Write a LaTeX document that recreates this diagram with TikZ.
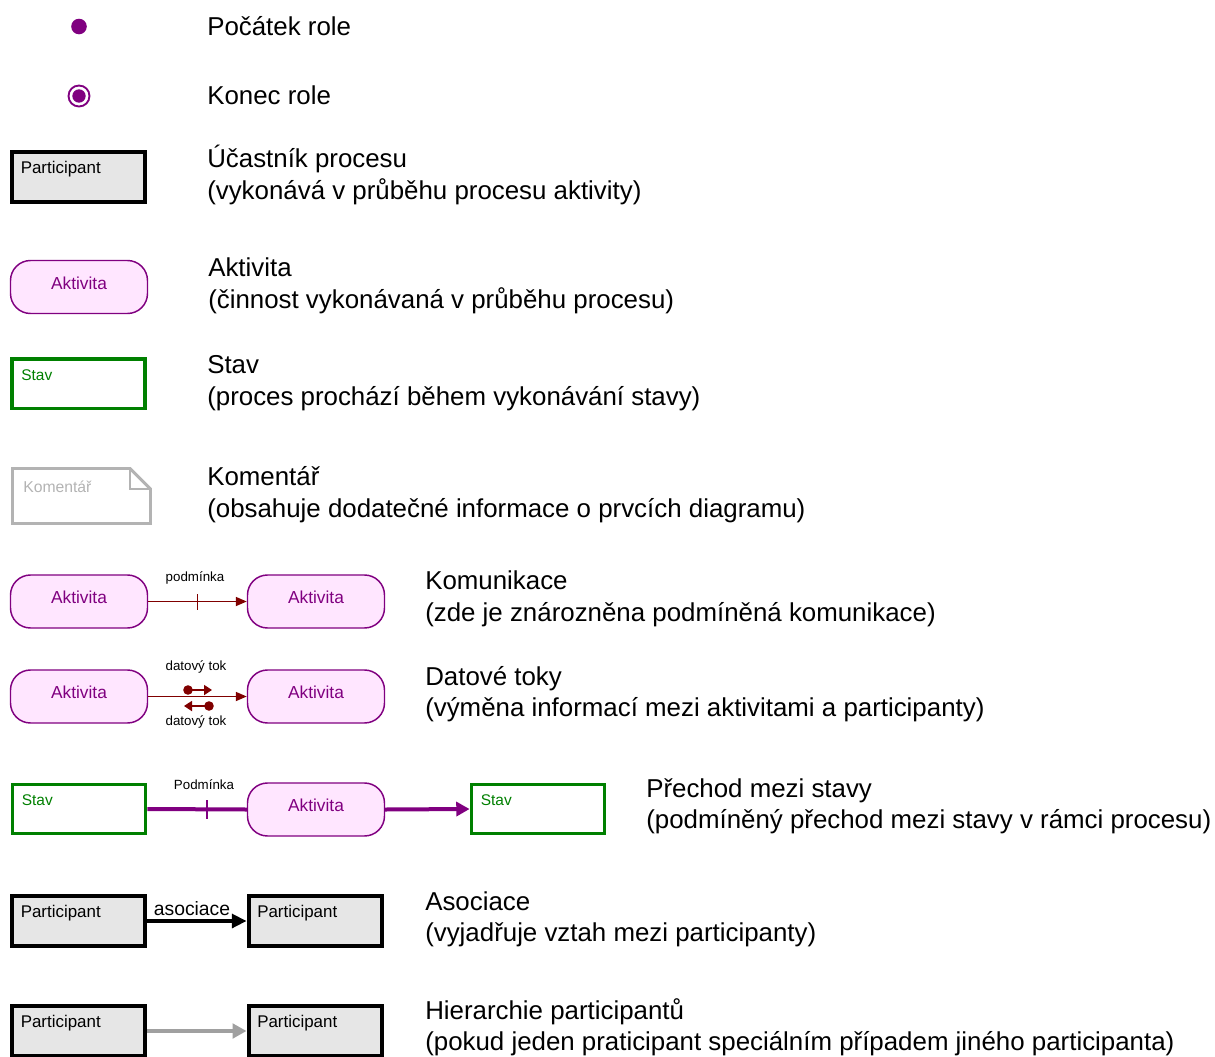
\documentclass[tikz,border=0pt]{standalone}
\usepackage{fontspec}
\setmainfont{Liberation Sans}
\usetikzlibrary{arrows.meta}
\definecolor{rolepurple}{HTML}{800080}
\definecolor{actfill}{HTML}{FFE6FF}
\definecolor{partfill}{HTML}{E6E6E6}
\definecolor{stategreen}{HTML}{008000}
\definecolor{notegrey}{HTML}{B3B3B3}
\definecolor{flowred}{HTML}{800000}
\definecolor{hiergrey}{HTML}{A0A0A0}
\newcommand\myfs[1]{\fontsize{#1}{#1}\selectfont}

\begin{document}
\begin{tikzpicture}[x=0.75pt,y=-0.75pt,
  desc/.style={anchor=base west, inner sep=0pt, font=\myfs{19.4}},
  small/.style={anchor=base, inner sep=0pt, font=\myfs{10}},
  startdot/.style={circle, fill=rolepurple, minimum size=11.7pt, inner sep=0pt},
  enddot/.style={circle, fill=rolepurple, minimum size=10pt, inner sep=0pt},
  endring/.style={circle, draw=rolepurple, line width=1.4pt, minimum size=15.75pt, inner sep=0pt},
  partbox/.style={draw=black, line width=3pt, fill=partfill, minimum width=99.75pt,
    minimum height=37.5pt, inner sep=0pt},
  parttext/.style={anchor=base west, inner sep=0pt, font=\myfs{12.7}},
  actbox/.style={draw=rolepurple, line width=1.1pt, fill=actfill, rounded corners=15pt,
    minimum width=102.75pt, minimum height=39.75pt, inner sep=0pt, text=rolepurple,
    font=\myfs{13}, text depth=6pt},
  statebox/.style={draw=stategreen, line width=2.6pt, fill=white, minimum width=100pt,
    minimum height=37.1pt, inner sep=0pt},
  statetext/.style={anchor=base west, inner sep=0pt, text=stategreen, font=\myfs{11.6}},
  note/.style={draw=notegrey, line width=2.2pt, line join=miter},
  comm/.style={draw=flowred, line width=1.3pt, -{Triangle[length=8.25pt,width=6.75pt]}},
  flowtip/.style={draw=flowred, line width=1.3pt, -{Triangle[length=6pt,width=7.5pt]}},
  trans/.style={draw=rolepurple, line width=3pt},
  transarrow/.style={trans, -{Triangle[length=10pt,width=10.5pt]}},
  assoc/.style={draw=black, line width=2.4pt, -{Triangle[length=11pt,width=10.5pt]}},
  hier/.style={draw=hiergrey, line width=2.4pt, -{Triangle[length=10.5pt,width=11pt]}},
  tickmark/.style={line width=1.1pt},
]
\useasboundingbox (0,0) rectangle (1215,1057);

% --- role start / end
\node[startdot] (start) at (79,26.5) {};
\node[endring] (endout) at (79,96) {};
\node[enddot] (endin) at (79,96) {};
\node[desc] (dstart) at (207,35.5) {Počátek role};
\node[desc] (dend) at (207,104.5) {Konec role};

% --- participant
\node[partbox] (p1) at (78.5,177) {};
\node[parttext] (p1t) at ([shift={(10.5,23)}]p1.north west) {Participant};
\node[desc] (dp1) at (207,167.5) {Účastník procesu};
\node[desc] (dp2) at (207,199.5) {(vykonává v průběhu procesu aktivity)};

% --- activity
\node[actbox] (a0) at (79,287) {Aktivita};
\node[desc] (da1) at (208,276.5) {Aktivita};
\node[desc] (da2) at (208,308.5) {(činnost vykonávaná v průběhu procesu)};

% --- state
\node[statebox] (s0) at (78.5,383.5) {};
\node[statetext] (s0t) at ([shift={(11,23)}]s0.north west) {Stav};
\node[desc] (ds1) at (207,373.5) {Stav};
\node[desc] (ds2) at (207,405) {(proces prochází během vykonávání stavy)};

% --- comment
\draw[note] (12.5,468.5) -- (130,468.5) -- (150.5,489) -- (150.5,523.5) -- (12.5,523.5) -- cycle;
\draw[note] (130,468.5) -- (130,489) -- (150.5,489);
\node[anchor=base west, inner sep=0pt, text=notegrey, font=\myfs{11.8}] (kt) at (23,492.5) {Komentář};
\node[desc] (dk1) at (207,485.5) {Komentář};
\node[desc] (dk2) at (207,517.5) {(obsahuje dodatečné informace o prvcích diagramu)};

% --- communication
\node[actbox] (a1) at (79,601.5) {Aktivita};
\node[actbox] (a2) at (316,601.5) {Aktivita};
\draw[comm] (a1.east) -- coordinate[pos=0.5] (t1) (a2.west);
\draw[flowred, tickmark] ([yshift=-6pt]t1) -- ([yshift=6pt]t1);
\node[small] (l1) at (195,581.5) {podmínka};
\node[desc] (dc1) at (425,589.5) {Komunikace};
\node[desc] (dc2) at (425,621) {(zde je znározněna podmíněná komunikace)};

% --- data flows
\node[actbox] (a3) at (79,696.5) {Aktivita};
\node[actbox] (a4) at (316,696.5) {Aktivita};
\draw[comm] (a3.east) -- (a4.west);
\fill[flowred] (188,690) circle[radius=3.6pt];
\draw[flowtip] (188,690) -- (212,690);
\fill[flowred] (209,706) circle[radius=3.6pt];
\draw[flowtip] (209,706) -- (184,706);
\node[small] (l2) at (196,670) {datový tok};
\node[small] (l3) at (196,725) {datový tok};
\node[desc] (dd1) at (425,685) {Datové toky};
\node[desc] (dd2) at (425,716) {(výměna informací mezi aktivitami a participanty)};

% --- state transition
\node[statebox] (s1) at (79,809) {};
\node[statetext] (s1t) at ([shift={(11,23)}]s1.north west) {Stav};
\node[actbox] (a5) at (316,809.5) {Aktivita};
\node[statebox] (s2) at (538,809) {};
\node[statetext] (s2t) at ([shift={(11,23)}]s2.north west) {Stav};
\draw[trans] (s1.east) -- coordinate[pos=0.6] (t2) (a5.west);
\draw[rolepurple, tickmark] ([yshift=-7pt]t2) -- ([yshift=7pt]t2);
\draw[transarrow] (a5.east) -- (s2.west);
\node[small] (l4) at (204,789) {Podmínka};
\node[desc] (dt1) at (646,797) {Přechod mezi stavy};
\node[desc] (dt2) at (646,828.5) {(podmíněný přechod mezi stavy v rámci procesu)};

% --- association
\node[partbox] (p2) at (78.5,921) {};
\node[parttext] (p2t) at ([shift={(10.5,23)}]p2.north west) {Participant};
\node[partbox] (p3) at (315,921) {};
\node[parttext] (p3t) at ([shift={(10.5,23)}]p3.north west) {Participant};
\draw[assoc] (p2.east) -- (p3.west);
\node[anchor=base, inner sep=0pt, font=\myfs{14.5}] (l5) at (192,915) {asociace};
\node[desc] (dq1) at (425,910) {Asociace};
\node[desc] (dq2) at (425,941.5) {(vyjadřuje vztah mezi participanty)};

% --- hierarchy
\node[partbox] (p4) at (78.5,1031) {};
\node[parttext] (p4t) at ([shift={(10.5,23)}]p4.north west) {Participant};
\node[partbox] (p5) at (315,1031) {};
\node[parttext] (p5t) at ([shift={(10.5,23)}]p5.north west) {Participant};
\draw[hier] (p4.east) -- (p5.west);
\node[desc] (dh1) at (425,1019.5) {Hierarchie participantů};
\node[desc] (dh2) at (425,1050.5) {(pokud jeden praticipant speciálním případem jiného participanta)};
\end{tikzpicture}
\end{document}
